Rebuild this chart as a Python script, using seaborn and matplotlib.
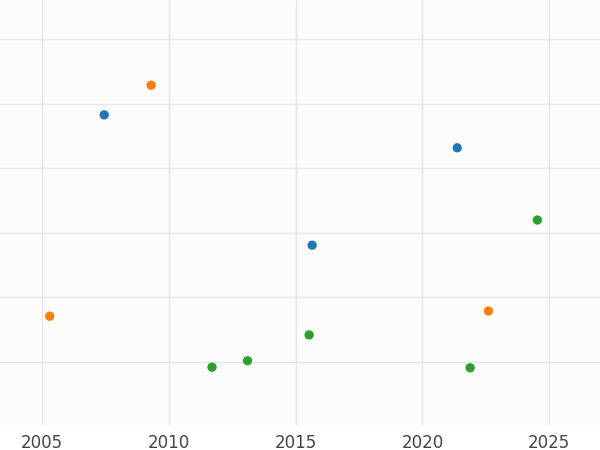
import matplotlib
matplotlib.use("Agg")
import matplotlib.pyplot as plt
import seaborn as sns
import pandas as pd

years = [2007.45, 2021.37, 2015.65, 2009.3, 2005.3, 2022.6, 2024.53, 2011.7, 2013.1, 2015.53, 2021.88]
values = [3.83, 3.32, 1.81, 4.29, 0.71, 0.79, 2.20, -0.08, 0.02, 0.42, -0.09]
groups = ["A", "A", "A", "B", "B", "B", "C", "C", "C", "C", "C"]
df = pd.DataFrame({"year": years, "value": values, "group": groups})

sns.set_style("white")
fig = plt.figure(figsize=(6, 4.5), dpi=100)
ax = fig.add_axes([0, 0.055, 1, 0.945])
ax.set_facecolor("#fcfcfc")
sns.scatterplot(data=df, x="year", y="value", hue="group",
                palette=["#1f77b4", "#ff7f0e", "#2ca02c"], s=45, edgecolor="none",
                legend=False, ax=ax, zorder=3)
ax.set_xlim(2003.34, 2027.0)
ax.set_ylim(-0.98, 5.61)
ax.set_xticks([2005, 2010, 2015, 2020, 2025])
ax.set_yticks([0, 1, 2, 3, 4, 5])
ax.set_yticklabels([])
ax.grid(True, color="#e6e6e6", linewidth=1)
ax.tick_params(length=0, labelsize=12, labelcolor="#444444", pad=6)
ax.set_xlabel("")
ax.set_ylabel("")
for s in ax.spines.values():
    s.set_visible(False)
fig.savefig("out.png", dpi=100)
